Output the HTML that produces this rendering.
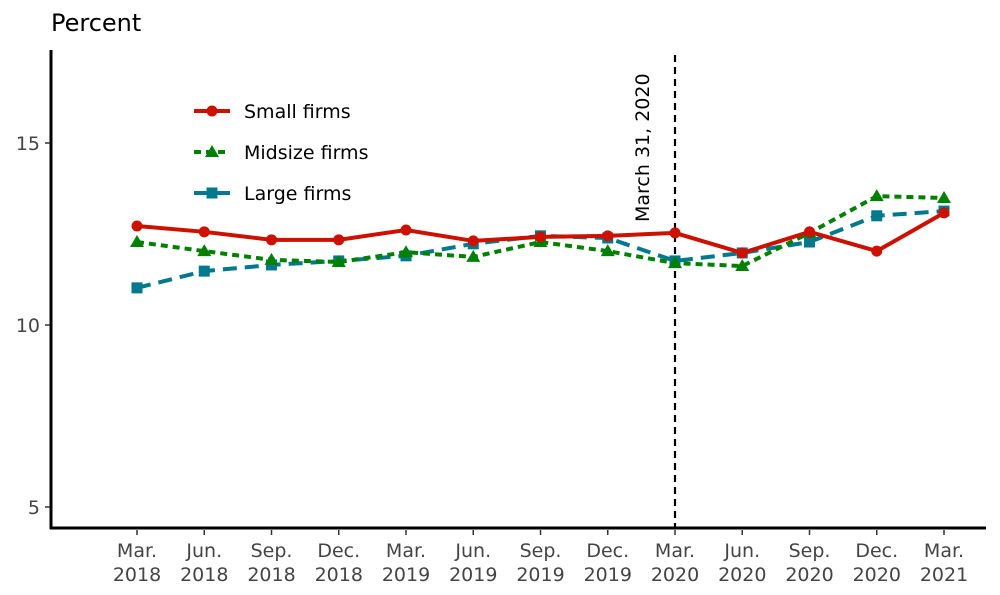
<!DOCTYPE html>
<html><head><meta charset="utf-8"><style>
body{margin:0;background:#fff;}
svg{display:block;font-family:"DejaVu Sans","Liberation Sans",sans-serif;}
</style></head><body>
<svg id="chart" width="1000" height="595">
<text x="51" y="31" font-size="24" fill="#000">Percent</text>
</svg>
<script>
const categories=["Mar.|2018","Jun.|2018","Sep.|2018","Dec.|2018","Mar.|2019","Jun.|2019","Sep.|2019","Dec.|2019","Mar.|2020","Jun.|2020","Sep.|2020","Dec.|2020","Mar.|2021"];
const smallFirms=[12.72,12.56,12.34,12.34,12.61,12.31,12.42,12.45,12.53,11.98,12.56,12.03,13.08];
const midsizeFirms=[12.28,12.03,11.79,11.73,12.0,11.87,12.28,12.03,11.70,11.62,12.53,13.54,13.49];
const largeFirms=[11.02,11.48,11.65,11.76,11.9,12.23,12.45,12.39,11.76,11.98,12.28,13.0,13.13];
const yTicks=[5,10,15];
const markerIndex=8;
const markerLabel="March 31, 2020";
const NS="http://www.w3.org/2000/svg";
const svg=document.getElementById('chart');
const x=i=>137+i*(944-137)/12;
const y=v=>507-(v-5)*36.4;
function el(t,a,p){const e=document.createElementNS(NS,t);for(const k in a)e.setAttribute(k,a[k]);(p||svg).appendChild(e);return e;}
let ax=el('line',{x1:51,y1:50,x2:51,y2:529,stroke:'#000','stroke-width':3});


ax=el('line',{x1:50,y1:528,x2:986,y2:528,stroke:'#000','stroke-width':3});


yTicks.forEach(v=>{
 el('line',{x1:45,y1:y(v),x2:50,y2:y(v),stroke:'#333','stroke-width':1.5});
 const t=el('text',{x:40,y:y(v)+7,'text-anchor':'end','font-size':19,fill:'#444'});
 t.textContent=v;
 
 
});
categories.forEach((c,i)=>{
 el('line',{x1:x(i),y1:530,x2:x(i),y2:535,stroke:'#333','stroke-width':1.5});
 const [a,b]=c.split('|');
 const t=el('text',{x:x(i),y:557,'text-anchor':'middle','font-size':19,fill:'#444'});
 t.textContent=a;
 
 
 const t2=el('text',{x:x(i),y:581,'text-anchor':'middle','font-size':19,fill:'#444'});
 t2.textContent=b;
 
 
});
const ml=el('line',{x1:x(markerIndex),y1:55,x2:x(markerIndex),y2:528,stroke:'#000','stroke-width':2.2,'stroke-dasharray':'7,5'});


const mt=el('text',{x:0,y:0,'font-size':19,fill:'#000',transform:`translate(${x(markerIndex)-26},222) rotate(-90)`});
mt.textContent=markerLabel;


function marker(shape,cx,cy,color,g){
 if(shape==='circle')return el('circle',{cx,cy,r:5.5,fill:color},g);
 if(shape==='tri')return el('polygon',{points:`${cx},${cy-7} ${cx-7},${cy+5} ${cx+7},${cy+5}`,fill:color},g);
 return el('rect',{x:cx-5.5,y:cy-5.5,width:11,height:11,fill:color},g);
}
const series=[
 {name:'large-firms',data:largeFirms,color:'#00798c',dash:'14,8',shape:'sq',label:'Large firms'},
 {name:'midsize-firms',data:midsizeFirms,color:'#008000',dash:'7,5',shape:'tri',label:'Midsize firms'},
 {name:'small-firms',data:smallFirms,color:'#cc1100',dash:'',shape:'circle',label:'Small firms'}
];
series.forEach(s=>{
 const g=el('g',{});
 
 
 const p=el('polyline',{points:s.data.map((v,i)=>x(i)+','+y(v)).join(' '),fill:'none',stroke:s.color,'stroke-width':4,'stroke-dasharray':s.dash},g);
 
 
 s.data.forEach((v,i)=>{const m=marker(s.shape,x(i),y(v),s.color,g);
  
  });
});
const leg=[series[2],series[1],series[0]];
leg.forEach((s,k)=>{
 const g=el('g',{});
 
 
 const ly=111+k*41;
 el('line',{x1:194,y1:ly,x2:230,y2:ly,stroke:s.color,'stroke-width':4,'stroke-dasharray':s.dash},g);
 marker(s.shape,212,ly,s.color,g);
 const t=el('text',{x:244,y:ly+7,'font-size':19,fill:'#000'},g);
 t.textContent=s.label;
});
</script>
</body></html>
